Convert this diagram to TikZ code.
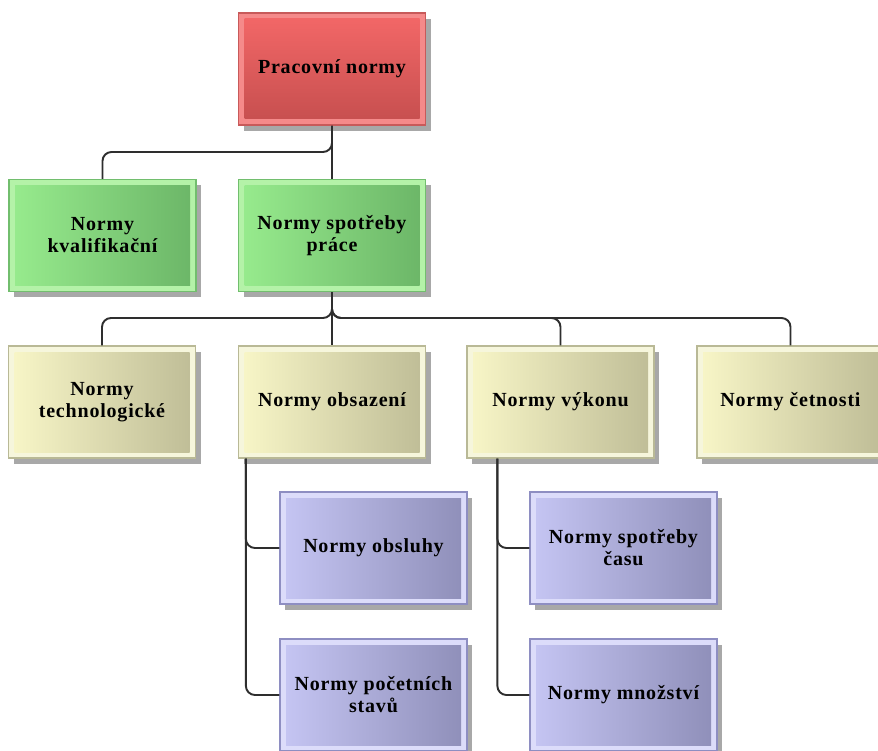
\documentclass[tikz,border=0pt]{standalone}
\usepackage{fontspec}
\setmainfont{Liberation Serif}[LetterSpace=4.0]
\usetikzlibrary{shadows}
\definecolor{redB}{HTML}{C85A5A}
\definecolor{redL}{HTML}{F58A8A}
\definecolor{redT}{HTML}{F46868}
\definecolor{redD}{HTML}{C54E4E}
\definecolor{greenB}{HTML}{72BE6E}
\definecolor{greenL}{HTML}{B4F2A8}
\definecolor{greenT}{HTML}{98EC8E}
\definecolor{greenD}{HTML}{6BB567}
\definecolor{yelB}{HTML}{B9B996}
\definecolor{yelL}{HTML}{F6F6DC}
\definecolor{yelT}{HTML}{F9F7C8}
\definecolor{yelD}{HTML}{BEBC96}
\definecolor{bluB}{HTML}{8E8EC2}
\definecolor{bluL}{HTML}{DCDCFA}
\definecolor{bluT}{HTML}{C6C6F4}
\definecolor{bluD}{HTML}{8E8EB8}
\definecolor{shadowgray}{HTML}{A8A8A8}
\definecolor{linegray}{HTML}{2E2E2E}
\tikzset{
  basebox/.style={rectangle, minimum width=187pt, minimum height=112pt, inner sep=0pt,
    align=center, font=\bfseries\fontsize{20}{22}\selectfont, text=black, line width=1.2pt,
    drop shadow={shadow xshift=5pt, shadow yshift=-6pt, fill=shadowgray, opacity=1}},
  redbox/.style={basebox, draw=redB, fill=redL,
    path picture={\shade[top color=redT, bottom color=redD]
      ([shift={(6pt,-6pt)}]path picture bounding box.north west) rectangle
      ([shift={(-6pt,6pt)}]path picture bounding box.south east);}},
  greenbox/.style={basebox, draw=greenB, fill=greenL,
    path picture={\shade[left color=greenT, right color=greenD]
      ([shift={(6pt,-6pt)}]path picture bounding box.north west) rectangle
      ([shift={(-6pt,6pt)}]path picture bounding box.south east);}},
  yelbox/.style={basebox, draw=yelB, fill=yelL,
    path picture={\shade[left color=yelT, right color=yelD]
      ([shift={(6pt,-6pt)}]path picture bounding box.north west) rectangle
      ([shift={(-6pt,6pt)}]path picture bounding box.south east);}},
  blubox/.style={basebox, draw=bluB, fill=bluL,
    path picture={\shade[left color=bluT, right color=bluD]
      ([shift={(6pt,-6pt)}]path picture bounding box.north west) rectangle
      ([shift={(-6pt,6pt)}]path picture bounding box.south east);}},
  conn/.style={draw=linegray, line width=1.9pt, rounded corners=9pt}
}
\begin{document}
\begin{tikzpicture}[x=1pt, y=-1pt]
\useasboundingbox (0,0) rectangle (878,751);
\clip (0,0) rectangle (878,751);
\fill[white] (0,0) rectangle (878,751);
\coordinate (j1) at (332,152);
\coordinate (j2) at (332,318);
% boxes
\node[redbox] (prac) at (332,69) {Pracovní normy};
\node[greenbox] (kval) at (102.5,235.5) {Normy\\kvalifikační};
\node[greenbox] (sp) at (332,235.5) {Normy spotřeby\\práce};
\node[yelbox] (tech) at (102,402) {Normy\\technologické};
\node[yelbox] (obs) at (332,402) {Normy obsazení};
\node[yelbox] (vyk) at (560.5,402) {Normy výkonu};
\node[yelbox] (cet) at (790.5,402) {Normy četnosti};
\node[blubox] (obsl) at (373.5,548) {Normy obsluhy};
\node[blubox] (poc) at (373.5,695) {Normy početních\\stavů};
\node[blubox] (cas) at (623.5,548) {Normy spotřeby\\času};
\node[blubox] (mnoz) at (623.5,695) {Normy množství};
% connectors
\draw[conn] (prac.south) -- (j1) -| (kval.north);
\draw[conn] (prac.south) -- (sp.north);
\draw[conn] (sp.south) -- (j2) -| (tech.north);
\draw[conn] (sp.south) -- (obs.north);
\draw[conn] (sp.south) -- (j2) -| (vyk.north);
\draw[conn] (sp.south) -- (j2) -| (cet.north);
\draw[conn] ([xshift=8pt]obs.south west) |- (obsl.west);
\draw[conn] ([xshift=8pt]obs.south west) |- (poc.west);
\draw[conn] ([xshift=31pt]vyk.south west) |- (cas.west);
\draw[conn] ([xshift=31pt]vyk.south west) |- (mnoz.west);
\end{tikzpicture}
\end{document}
